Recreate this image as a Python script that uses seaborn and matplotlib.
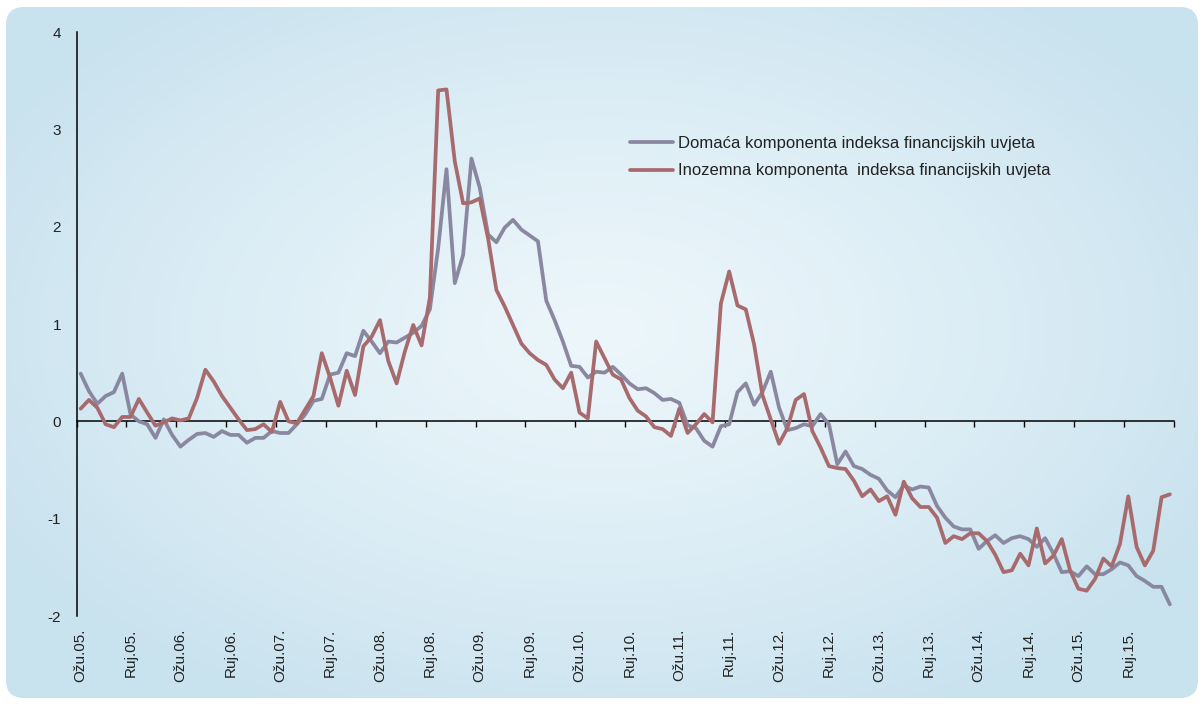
#!/usr/bin/env python3

# Imports:
import matplotlib.pyplot as plt
import matplotlib.patches as mpatches
import numpy as np
import pandas as pd
import seaborn as sns

# Monthly data, March 2005 - February 2016.
months = ["Ožu", "Ruj"]
years = list(range(5, 16))
tick_labels = [f"{m}.{y:02d}." for y in years for m in months]

domestic_label = "Domaća komponenta indeksa financijskih uvjeta"
foreign_label = "Inozemna komponenta  indeksa financijskih uvjeta"

domestic = [
    0.49, 0.31, 0.18, 0.26, 0.30, 0.49, 0.07, 0.00, -0.03, -0.17,
    0.02, -0.14, -0.26, -0.19, -0.13, -0.12, -0.16, -0.10, -0.14, -0.14,
    -0.22, -0.17, -0.17, -0.10, -0.12, -0.12, -0.03, 0.07, 0.21, 0.23,
    0.48, 0.50, 0.70, 0.67, 0.93, 0.82, 0.70, 0.82, 0.81, 0.86,
    0.91, 0.98, 1.15, 1.78, 2.59, 1.42, 1.71, 2.70, 2.40, 1.92,
    1.84, 1.99, 2.07, 1.97, 1.91, 1.85, 1.24, 1.04, 0.82, 0.57,
    0.56, 0.45, 0.51, 0.50, 0.56, 0.48, 0.39, 0.33, 0.34, 0.29,
    0.22, 0.23, 0.19, -0.04, -0.07, -0.20, -0.26, -0.05, -0.03, 0.30,
    0.39, 0.17, 0.30, 0.51, 0.14, -0.09, -0.07, -0.03, -0.05, 0.075,
    -0.03, -0.44, -0.31, -0.46, -0.49, -0.55, -0.59, -0.71, -0.78, -0.66,
    -0.70, -0.67, -0.68, -0.87, -0.99, -1.08, -1.11, -1.11, -1.31, -1.23,
    -1.17, -1.25, -1.20, -1.18, -1.21, -1.29, -1.20, -1.36, -1.55, -1.54,
    -1.59, -1.49, -1.57, -1.57, -1.52, -1.45, -1.48, -1.59, -1.64, -1.70,
    -1.70, -1.88,
]

foreign = [
    0.13, 0.22, 0.14, -0.03, -0.06, 0.045, 0.045, 0.23, 0.09, -0.045,
    -0.01, 0.03, 0.01, 0.03, 0.24, 0.53, 0.41, 0.26, 0.14, 0.02,
    -0.09, -0.08, -0.03, -0.11, 0.20, 0.00, -0.02, 0.12, 0.26, 0.70,
    0.45, 0.16, 0.52, 0.27, 0.77, 0.87, 1.04, 0.62, 0.39, 0.72,
    0.99, 0.78, 1.27, 3.40, 3.41, 2.67, 2.24, 2.25, 2.29, 1.88,
    1.35, 1.18, 0.99, 0.80, 0.70, 0.63, 0.58, 0.43, 0.34, 0.50,
    0.09, 0.03, 0.82, 0.65, 0.48, 0.43, 0.24, 0.11, 0.05, -0.06,
    -0.08, -0.15, 0.13, -0.12, -0.03, 0.075, -0.01, 1.21, 1.54, 1.19,
    1.15, 0.79, 0.27, 0.02, -0.23, -0.07, 0.22, 0.28, -0.10, -0.27,
    -0.46, -0.48, -0.49, -0.61, -0.77, -0.70, -0.82, -0.77, -0.96, -0.62,
    -0.79, -0.88, -0.88, -0.99, -1.25, -1.18, -1.21, -1.15, -1.15, -1.23,
    -1.37, -1.55, -1.53, -1.36, -1.48, -1.10, -1.46, -1.38, -1.21, -1.53,
    -1.72, -1.74, -1.62, -1.41, -1.49, -1.26, -0.77, -1.29, -1.48, -1.33,
    -0.78, -0.75,
]

y_ticks = [-2, -1, 0, 1, 2, 3, 4]

df = pd.DataFrame({
    "period": np.arange(len(domestic)),
    "domestic": domestic,
    "foreign": foreign,
})

sns.set_theme(style="white")
plt.rcParams["font.family"] = ["Liberation Sans", "DejaVu Sans"]

W, H = 1204, 704
fig = plt.figure(figsize=(W / 100, H / 100), dpi=100, facecolor="white")

# Background panel: rounded box with a soft radial gradient.
bg = fig.add_axes([0, 0, 1, 1], zorder=0)
bg.set_xlim(0, W)
bg.set_ylim(H, 0)
bg.axis("off")
yy, xx = np.mgrid[0:H, 0:W]
r = np.sqrt(((xx - 600) / 700.0) ** 2 + ((yy - 330) / 430.0) ** 2)
t = np.clip(r, 0, 1) ** 1.3
centre = np.array([236, 246, 251]) / 255.0
edge = np.array([200, 226, 238]) / 255.0
img = centre[None, None, :] * (1 - t[..., None]) + edge[None, None, :] * t[..., None]
im = bg.imshow(img, extent=(0, W, H, 0), aspect="auto", interpolation="bilinear")
panel = mpatches.FancyBboxPatch(
    (6, 7), W - 12, H - 13,
    boxstyle="round,pad=0,rounding_size=18",
    transform=bg.transData, facecolor="none", edgecolor="none",
)
bg.add_patch(panel)
im.set_clip_path(panel)

# Main chart.
ax = fig.add_axes([76.5 / W, 88 / H, (1174 - 76.5) / W, (616 - 32) / H], zorder=1)
ax.set_facecolor("none")

sns.lineplot(data=df, x="period", y="domestic", ax=ax, color="#8a88a0",
             linewidth=2.7, label=domestic_label)
sns.lineplot(data=df, x="period", y="foreign", ax=ax, color="#a86b6d",
             linewidth=2.7, label=foreign_label)

ymin, ymax = y_ticks[0], y_ticks[-1]
ax.set_ylim(ymin, ymax)
ax.set_xlim(-0.5, len(domestic) - 0.5)
ax.set_yticks(y_ticks)
ax.set_yticklabels([str(v) for v in y_ticks])
ax.set_xticks(np.arange(0, len(domestic), 6))
ax.set_xticklabels(tick_labels, rotation=90)
ax.set_xlabel("")
ax.set_ylabel("")

for side in ["top", "right", "bottom"]:
    ax.spines[side].set_visible(False)
ax.spines["left"].set_color("black")
ax.spines["left"].set_linewidth(1.1)
ax.tick_params(axis="x", length=0, pad=9, labelsize=11, colors="#222222")
ax.tick_params(axis="y", length=4, width=1.0, direction="out", pad=7,
               labelsize=11, colors="#222222")
ax.tick_params(axis="y", color="black")

# Zero line with tick marks between half-year periods.
zero_axis = ax.secondary_xaxis((0 - ymin) / (ymax - ymin))
zero_axis.set_xticks(np.arange(-0.5, len(domestic), 6))
zero_axis.tick_params(direction="out", length=4, width=1.0, color="black",
                      labelbottom=False, labeltop=False)
zero_axis.spines["bottom"].set_color("black")
zero_axis.spines["bottom"].set_linewidth(1.1)
zero_axis.spines["top"].set_visible(False)

leg = ax.legend(
    loc="upper left",
    bbox_to_anchor=((630 - 76.5) / (1174 - 76.5), (616 - 136) / (616 - 32)),
    frameon=False, fontsize=12, handlelength=2.6, handletextpad=0.25,
    borderpad=0, borderaxespad=0, labelspacing=0.75,
)
for text in leg.get_texts():
    text.set_color("#222222")

fig.savefig("out.png", dpi=100, facecolor="white")
